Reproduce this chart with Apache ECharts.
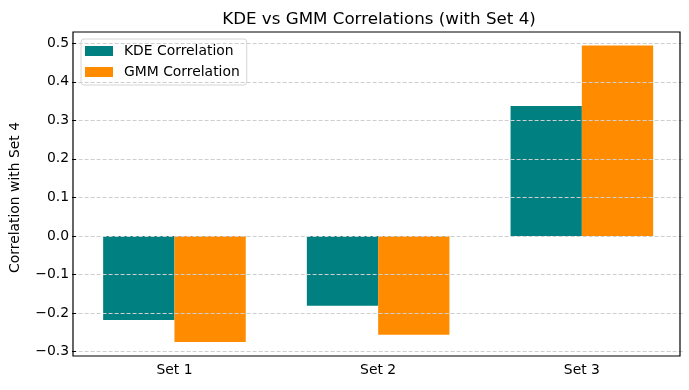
<!DOCTYPE html>
<html>
<head>
<meta charset="utf-8">
<script src="https://cdn.jsdelivr.net/npm/echarts@6/dist/echarts.min.js"></script>
<style>
  html, body { margin: 0; padding: 0; background: #fff; }
  #chart { width: 689px; height: 390px; }
</style>
</head>
<body>
<div id="chart"></div>
<script>
var categories = ["Set 1", "Set 2", "Set 3"];
var kdeValues = [-0.218, -0.181, 0.337];
var gmmValues = [-0.275, -0.256, 0.494];

var FONT = "DejaVu Sans";

var chart = echarts.init(document.getElementById("chart"));

// axes frame (matplotlib spines) sits a bit outside the tick range
var frame = { x: 73, y: 32, w: 607, h: 324 };

chart.setOption({
    animation: false,
    backgroundColor: "#fff",
    textStyle: { fontFamily: FONT },
    title: {
        text: "KDE vs GMM Correlations (with Set 4)",
        left: 374,
        top: 6,
        textAlign: "center",
        textStyle: { fontFamily: FONT, fontSize: 16.7, fontWeight: "normal", color: "#000" }
    },
    legend: {
        orient: "vertical",
        left: 81,
        top: 39,
        itemWidth: 28,
        itemHeight: 10,
        itemGap: 7,
        padding: [5, 7, 6, 4],
        backgroundColor: "rgba(255,255,255,0.8)",
        borderColor: "#d6d6d6",
        borderWidth: 1,
        borderRadius: 3,
        icon: "rect",
        textStyle: { fontFamily: FONT, fontSize: 13.9, color: "#000", padding: [0, 0, 0, 6] },
        data: ["KDE Correlation", "GMM Correlation"]
    },
    grid: {
        left: 69.6,
        right: 5.3,
        top: 43.2,
        bottom: 38.3,
        containLabel: false
    },
    xAxis: {
        type: "category",
        data: categories,
        offset: 4.3,
        axisLine: { show: false },
        axisTick: { alignWithLabel: true, length: 4, lineStyle: { color: "#000" } },
        axisLabel: { fontFamily: FONT, fontSize: 13.9, color: "#000", margin: 7 },
        splitLine: { show: false }
    },
    yAxis: {
        type: "value",
        min: -0.3,
        max: 0.5,
        interval: 0.1,
        z: 5,
        offset: -3.4,
        name: "Correlation with Set 4",
        nameLocation: "middle",
        nameGap: 54,
        nameTextStyle: { fontFamily: FONT, fontSize: 13.9, color: "#000" },
        axisLine: { show: false },
        axisTick: { show: true, length: 4, lineStyle: { color: "#000" } },
        axisLabel: {
            fontFamily: FONT, fontSize: 13.9, color: "#000", margin: 7,
            formatter: function (v) {
                var s = v.toFixed(1);
                return s.replace("-", "\u2212");
            }
        },
        splitLine: { show: true, lineStyle: { color: "#cfcfcf", type: [4, 2], width: 1 } }
    },
    series: [
        {
            name: "KDE Correlation",
            type: "bar",
            data: kdeValues,
            barWidth: "35%",
            barGap: "0%",
            itemStyle: { color: "#008080" }
        },
        {
            name: "GMM Correlation",
            type: "bar",
            data: gmmValues,
            barWidth: "35%",
            barGap: "0%",
            itemStyle: { color: "#ff8c00" }
        }
    ],
    graphic: [
        {
            type: "rect",
            z: 10,
            silent: true,
            shape: { x: frame.x, y: frame.y, width: frame.w, height: frame.h },
            style: { fill: null, stroke: "#000", lineWidth: 1.2 }
        }
    ]
});
</script>
</body>
</html>
